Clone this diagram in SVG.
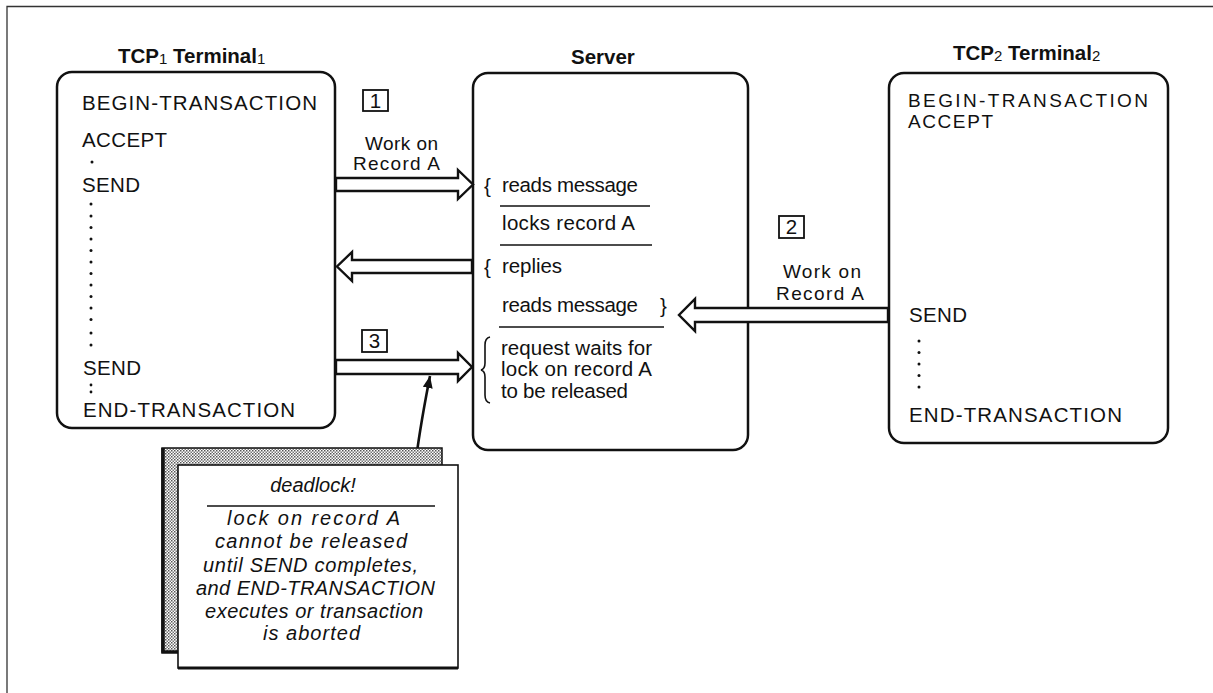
<svg xmlns="http://www.w3.org/2000/svg" width="1213" height="693" viewBox="0 0 1213 693">
  <style>
    .t { font-family: "Liberation Sans", Arial, sans-serif; font-size: 20.5px; fill: #111; }
    .lbl { font-family: "Liberation Sans", Arial, sans-serif; font-size: 19px; fill: #111; }
    .ti { font-family: "Liberation Sans", Arial, sans-serif; font-size: 20px; font-style: italic; fill: #111; }
    .h { font-family: "Liberation Sans", Arial, sans-serif; font-size: 20.5px; font-weight: bold; fill: #111; }
    .sub { font-size: 15px; font-weight: normal; }
    .box { fill: #fff; stroke: #111; stroke-width: 2.5; }
    .num { fill: #fff; stroke: #111; stroke-width: 1.8; }
    .rule { stroke: #111; stroke-width: 1.6; }
    .blk { fill: #fff; stroke: #111; stroke-width: 2.4; stroke-linejoin: miter; }
    .dot { fill: #111; }
  </style>
  <defs>
    <pattern id="stipple" width="3" height="3" patternUnits="userSpaceOnUse">
      <rect width="3" height="3" fill="#fff"/>
      <rect x="0" y="0" width="1.5" height="1.5" fill="#555"/>
      <rect x="1.5" y="1.5" width="1.5" height="1.5" fill="#777"/>
    </pattern>
    <marker id="tip" viewBox="0 0 12 10" refX="12" refY="5" markerWidth="12" markerHeight="10" orient="auto" markerUnits="userSpaceOnUse">
      <path d="M0,0 L12,5 L0,10 Z" fill="#111"/>
    </marker>
  </defs>

  <rect width="1213" height="693" fill="#fff"/>
  <!-- page frame -->
  <path d="M7,693 L7,6.5 L1213,6.5" fill="none" stroke="#333" stroke-width="1.3"/>

  <!-- TCP1 / terminal 1 -->
  <g id="tcp1">
    <text class="h" x="118" y="63">TCP<tspan class="sub" dy="1">1</tspan><tspan dy="-1"> Terminal</tspan><tspan class="sub" dy="1">1</tspan></text>
    <rect class="box" x="57" y="72" width="278" height="356" rx="15"/>
    <text class="t" x="82" y="110" textLength="235" lengthAdjust="spacing">BEGIN-TRANSACTION</text>
    <text class="t" x="82" y="147" textLength="85" lengthAdjust="spacing">ACCEPT</text>
    <circle class="dot" cx="92" cy="162" r="1.5"/>
    <text class="t" x="82" y="192" textLength="58" lengthAdjust="spacing">SEND</text>
    <g class="dot">
      <circle cx="91" cy="204" r="1.5"/><circle cx="91" cy="216" r="1.5"/><circle cx="91" cy="227.5" r="1.5"/>
      <circle cx="91" cy="239" r="1.5"/><circle cx="91" cy="250.5" r="1.5"/><circle cx="91" cy="262" r="1.5"/>
      <circle cx="91" cy="273.5" r="1.5"/><circle cx="91" cy="285" r="1.5"/><circle cx="91" cy="296.5" r="1.5"/>
      <circle cx="91" cy="308" r="1.5"/><circle cx="91" cy="319.5" r="1.5"/><circle cx="91" cy="333" r="1.5"/>
      <circle cx="91" cy="345" r="1.5"/>
    </g>
    <text class="t" x="83" y="375" textLength="58" lengthAdjust="spacing">SEND</text>
    <circle class="dot" cx="91" cy="385" r="1.4"/>
    <circle class="dot" cx="91" cy="392" r="1.4"/>
    <text class="t" x="83" y="417" textLength="212" lengthAdjust="spacing">END-TRANSACTION</text>
  </g>

  <!-- Server -->
  <g id="server">
    <text class="h" x="571" y="64">Server</text>
    <rect class="box" x="473" y="73" width="275" height="377" rx="15"/>
    <text class="t" x="484" y="193">{</text>
    <text class="t" x="502" y="192" textLength="136" lengthAdjust="spacing">reads message</text>
    <line class="rule" x1="500" y1="206" x2="650" y2="206"/>
    <text class="t" x="502" y="230" textLength="133" lengthAdjust="spacing">locks record A</text>
    <line class="rule" x1="500" y1="245" x2="652" y2="245"/>
    <text class="t" x="484" y="274">{</text>
    <text class="t" x="502" y="273" textLength="60" lengthAdjust="spacing">replies</text>
    <text class="t" x="502" y="312" textLength="136" lengthAdjust="spacing">reads message</text>
    <text class="t" x="660" y="313">}</text>
    <line class="rule" x1="499" y1="327" x2="664" y2="327"/>
    <path d="M490,337 Q485,338 485,345 L485,363 Q485,369 481,370 Q485,371 485,377 L485,395 Q485,402 490,403" fill="none" stroke="#111" stroke-width="1.6"/>
    <text class="t" x="501" y="355" textLength="151" lengthAdjust="spacing">request waits for</text>
    <text class="t" x="501" y="376" textLength="151" lengthAdjust="spacing">lock on record A</text>
    <text class="t" x="501" y="398" textLength="127" lengthAdjust="spacing">to be released</text>
  </g>

  <!-- TCP2 / terminal 2 -->
  <g id="tcp2">
    <text class="h" x="953" y="60">TCP<tspan class="sub" dy="1">2</tspan><tspan dy="-1"> Terminal</tspan><tspan class="sub" dy="1">2</tspan></text>
    <rect class="box" x="889" y="73" width="279" height="370" rx="15"/>
    <text class="lbl" x="908" y="107" textLength="240" lengthAdjust="spacing">BEGIN-TRANSACTION</text>
    <text class="lbl" x="908" y="128" textLength="85" lengthAdjust="spacing">ACCEPT</text>
    <text class="t" x="909" y="322" textLength="58" lengthAdjust="spacing">SEND</text>
    <g class="dot">
      <circle cx="919" cy="341" r="1.5"/><circle cx="919" cy="352.5" r="1.5"/><circle cx="919" cy="364" r="1.5"/>
      <circle cx="919" cy="375.5" r="1.5"/><circle cx="919" cy="387" r="1.5"/>
    </g>
    <text class="t" x="909" y="422" textLength="213" lengthAdjust="spacing">END-TRANSACTION</text>
  </g>

  <!-- step numbers -->
  <g id="step1">
    <rect class="num" x="363" y="90" width="25" height="21"/>
    <text class="t" x="375.5" y="107.5" text-anchor="middle">1</text>
  </g>
  <g id="step2">
    <rect class="num" x="779" y="216" width="25" height="22"/>
    <text class="t" x="791.5" y="234" text-anchor="middle">2</text>
  </g>
  <g id="step3">
    <rect class="num" x="362" y="330" width="25" height="22"/>
    <text class="t" x="374.5" y="348" text-anchor="middle">3</text>
  </g>

  <!-- message flows -->
  <g id="connectors">
    <!-- 1: TCP1 to server -->
    <polygon class="blk" points="336,178 458,178 458,170 473,184.5 458,199 458,191 336,191"/>
    <text class="lbl" x="365" y="150" textLength="73" lengthAdjust="spacing">Work on</text>
    <text class="lbl" x="353" y="170" textLength="87" lengthAdjust="spacing">Record A</text>
    <!-- reply: server to TCP1 -->
    <polygon class="blk" points="472,260 352,260 352,252 337,266.5 352,281 352,273 472,273"/>
    <!-- 2: TCP2 to server -->
    <polygon class="blk" points="888,308 695,308 695,299 679,315 695,331 695,322 888,322"/>
    <text class="lbl" x="783" y="278" textLength="78" lengthAdjust="spacing">Work on</text>
    <text class="lbl" x="776" y="300" textLength="88" lengthAdjust="spacing">Record A</text>
    <!-- 3: TCP1 to server, blocked -->
    <polygon class="blk" points="336,360 458,360 458,353 472,367 458,381 458,374 336,374"/>
    <!-- note pointer -->
    <path d="M415,468 C419,432 425,402 430,376" fill="none" stroke="#111" stroke-width="2.6" marker-end="url(#tip)"/>
  </g>

  <!-- deadlock note -->
  <g id="note">
    <rect x="162" y="448" width="280" height="204" fill="url(#stipple)" stroke="#111" stroke-width="1.5"/>
    <path d="M163,448 L163,652 L442,652" fill="none" stroke="#111" stroke-width="3.5"/>
    <rect x="178" y="465" width="280" height="203" fill="#fff" stroke="#111" stroke-width="1.6"/>
    <line x1="178" y1="668" x2="458" y2="668" stroke="#111" stroke-width="3"/>
    <text class="ti" x="313" y="492" text-anchor="middle">deadlock!</text>
    <line class="rule" x1="207" y1="506" x2="435" y2="506"/>
    <text class="ti" x="227" y="525" textLength="173" lengthAdjust="spacing">lock on record A</text>
    <text class="ti" x="215" y="548" textLength="192" lengthAdjust="spacing">cannot be released</text>
    <text class="ti" x="203" y="572" textLength="215" lengthAdjust="spacing">until SEND completes,</text>
    <text class="ti" x="196" y="595" textLength="239" lengthAdjust="spacing">and END-TRANSACTION</text>
    <text class="ti" x="205" y="618" textLength="218" lengthAdjust="spacing">executes or transaction</text>
    <text class="ti" x="263" y="640" textLength="97" lengthAdjust="spacing">is aborted</text>
  </g>
</svg>
